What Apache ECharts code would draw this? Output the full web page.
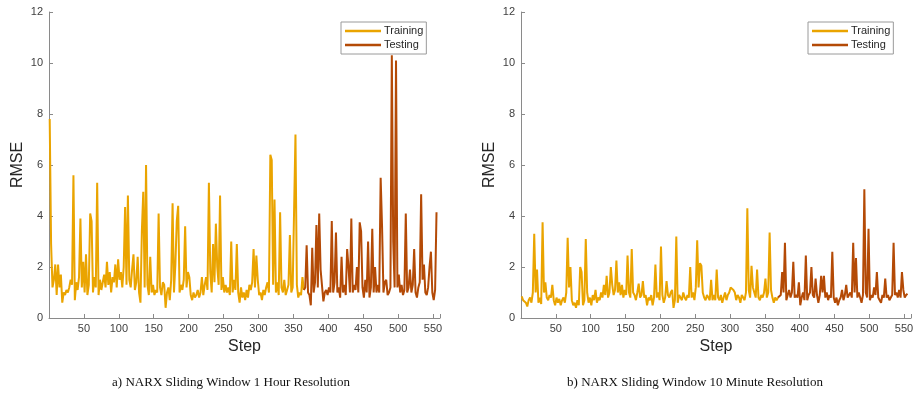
<!DOCTYPE html>
<html>
<head>
<meta charset="utf-8">
<script src="https://cdn.jsdelivr.net/npm/echarts@6/dist/echarts.min.js"></script>
<style>
  html, body { margin: 0; padding: 0; background: #fff; }
  #main { width: 922px; height: 394px; }
</style>
</head>
<body>
<div id="main"></div>
<script>
// RMSE per step, sampled every 2 steps, read off the figure
// a) 1 hour resolution
var hourTrainStart = 1
var hourTrain = [
  7.8, 2.9, 1.2, 1.5, 2.1, 0.9, 2.1, 1.2, 1.7, 0.6,
  1.0, 0.9, 1.1, 1.0, 1.2, 1.5, 1.3, 5.6, 0.7, 1.4,
  1.1, 1.6, 3.9, 1.2, 2.2, 1.0, 2.5, 0.9, 1.3, 4.1,
  3.8, 1.0, 1.6, 1.2, 5.3, 0.9, 1.5, 1.1, 1.4, 1.7,
  1.2, 2.2, 1.3, 1.8, 1.0, 1.6, 1.4, 2.1, 1.2, 2.3,
  1.5, 1.8, 1.2, 2.0, 4.35, 1.3, 4.8, 1.5, 1.2, 1.9,
  2.5, 1.1, 1.4, 2.4, 1.0, 0.6, 3.4, 4.95, 1.2, 6.0,
  1.3, 0.9, 2.4, 1.0, 1.3, 0.9, 1.1, 1.0, 4.1, 1.2,
  0.9, 1.4, 1.3, 0.4, 1.0, 1.2, 0.7, 1.5, 4.5, 1.0,
  2.1, 3.8, 4.4, 1.0, 1.3, 1.1, 1.5, 3.6, 1.2, 1.8,
  1.6, 0.9, 0.7, 1.0, 0.8, 0.9, 1.1, 0.8, 1.0, 1.6,
  0.9, 1.3, 1.6, 1.1, 5.3, 1.8, 1.0, 2.9, 1.4, 3.7,
  2.0, 1.3, 4.8, 1.1, 1.6, 1.0, 1.3, 1.0, 1.2, 0.9,
  3.0, 1.0, 1.5, 1.1, 2.9, 1.0, 0.6, 1.2, 0.8, 1.0,
  0.7, 1.1, 0.8, 1.3, 1.1, 1.4, 2.7, 1.2, 2.45, 1.5,
  0.9, 1.0, 0.7, 1.1, 0.9, 1.2, 1.4, 1.0, 6.4, 6.2,
  1.3, 4.65, 1.0, 1.4, 0.9, 4.15, 1.2, 1.0, 1.5, 0.9,
  1.1, 1.3, 3.25, 1.0, 1.2, 1.2, 7.2, 1.3, 0.8, 1.0,
  0.9, 1.6, 1.1
]
var hourTestStart = 365
var hourTest = [
  1.1, 1.2, 2.85, 1.0, 0.9, 0.5, 2.75, 1.0, 1.4, 3.65,
  1.2, 4.1, 1.9, 1.95, 0.65, 1.0, 1.1, 0.9, 1.2, 1.0,
  3.8, 1.0, 1.4, 3.35, 1.0, 1.2, 0.8, 2.4, 1.0, 1.3,
  0.9, 2.7, 2.0, 1.0, 3.9, 1.0, 1.3, 1.1, 2.0, 1.0,
  3.75, 3.4, 1.2, 0.8, 1.5, 1.0, 3.0, 0.8, 1.2, 3.5,
  1.0, 2.0, 1.0, 1.3, 1.0, 5.5, 3.6, 1.0, 1.4, 1.5,
  0.9, 1.0, 1.2, 10.3, 3.0, 1.2, 10.1, 1.2, 1.7, 1.0,
  1.3, 0.9, 1.1, 4.1, 1.0, 1.2, 1.9, 1.0, 1.3, 2.7,
  1.0, 0.8, 1.2, 1.4, 4.85, 1.5, 2.1, 1.0, 0.9, 1.2,
  2.0, 2.6, 1.0, 0.7, 1.1, 4.15
]
// b) 10 minute resolution
var minTrainStart = 1
var minTrain = [
  0.85, 0.7, 0.75, 0.6, 0.45, 0.7, 0.8, 0.6, 1.0, 3.3,
  1.0, 1.9, 0.6, 0.8, 0.55, 3.75, 1.0, 1.4, 0.8, 0.7,
  0.9, 0.8, 1.3, 0.7, 0.5, 0.8, 0.6, 0.75, 0.5, 0.7,
  0.8, 0.6, 1.0, 3.15, 1.2, 2.0, 0.7, 0.5, 0.6, 0.4,
  0.7, 0.5, 2.0, 1.8, 0.5, 0.7, 3.1, 1.0, 0.6, 0.8,
  0.5, 0.9, 0.7, 1.1, 0.6, 0.8, 0.7, 1.0, 0.8, 1.3,
  0.9, 1.65, 0.8, 1.0, 2.0, 1.3, 0.9, 1.1, 2.25, 1.0,
  1.4, 0.9, 1.3, 0.8, 1.1, 0.9, 2.45, 1.0, 0.8, 2.7,
  1.0, 0.9, 0.7, 1.0, 1.35, 0.8, 0.9, 1.45, 0.8, 0.9,
  0.5, 0.8, 0.7, 0.9, 0.5, 0.8, 2.1, 0.8, 1.0, 0.7,
  2.8, 0.9, 0.6, 0.8, 1.45, 0.9, 0.8, 1.0, 1.1, 0.4,
  0.7, 3.2, 0.6, 0.9, 0.8, 0.7, 1.0, 0.8, 0.7, 0.9,
  0.8, 2.0, 0.8, 1.0, 0.7, 1.2, 3.05, 1.2, 2.15, 2.05,
  1.0, 0.8, 0.7, 0.9, 0.8, 0.7, 1.5, 0.7, 0.9, 0.7,
  1.9, 0.8, 0.7, 0.9, 0.6, 0.8, 1.0, 0.7, 0.9, 1.0,
  1.2, 1.25, 1.1, 1.0, 0.7, 0.9, 0.8, 0.6, 0.9, 0.8,
  0.7, 1.0, 4.3, 1.1, 0.8, 2.05, 1.2, 1.0, 0.8, 1.9,
  0.8, 0.7, 0.9, 0.8, 1.0, 1.55, 0.8, 1.0, 3.35, 1.1,
  0.8, 0.6, 0.8, 0.7, 0.8
]
var minTestStart = 369
var minTest = [
  0.8, 0.85, 0.9, 1.8, 1.0, 2.95, 0.7, 0.9, 1.1, 0.8,
  1.0, 2.2, 0.8, 0.9, 0.8, 1.4, 0.5, 0.8, 1.0, 0.7,
  2.45, 0.7, 0.9, 1.0, 2.0, 0.9, 0.8, 1.55, 0.9, 0.6,
  0.9, 1.65, 1.0, 1.65, 0.8, 1.0, 0.7, 0.9, 0.8, 2.6,
  0.8, 0.6, 0.8, 0.5, 0.7, 0.8, 1.1, 0.7, 0.9, 1.3,
  0.8, 0.9, 1.0, 0.8, 2.95, 1.0, 2.35, 0.8, 1.0, 0.8,
  0.6, 0.9, 5.05, 1.0, 0.8, 3.5, 0.7, 0.9, 0.8, 1.2,
  0.9, 1.8, 0.8, 0.7, 0.6, 0.9, 0.8, 1.55, 0.8, 0.9,
  0.7, 0.8, 0.9, 2.95, 0.9, 1.0, 0.8, 1.1, 0.8, 1.8,
  1.1, 0.8, 0.9, 0.95
]
var stepGap = 2
var yTicks = [0, 2, 4, 6, 8, 10, 12]
var xTicks = [50, 100, 150, 200, 250, 300, 350, 400, 450, 500, 550]
var captions = [
  'a) NARX Sliding Window 1 Hour Resolution',
  'b) NARX Sliding Window 10 Minute Resolution'
]

var trainColor = '#EAA400'
var testColor = '#B44A06'
var axisColor = '#8a8a8a'
var font = 'Liberation Sans'

function pairs(start, vals) {
  return vals.map(function (v, i) { return [start + i * stepGap, v] })
}

function xAxisOf(idx) {
  return {
    gridIndex: idx, type: 'value', min: 0, max: 560, interval: 50,
    name: 'Step', nameLocation: 'middle', nameGap: 21,
    nameTextStyle: { fontSize: 16, color: '#262626', fontFamily: font },
    axisLine: { lineStyle: { color: axisColor } },
    axisTick: { inside: true, length: 4, lineStyle: { color: axisColor } },
    axisLabel: {
      fontSize: 11, color: '#404040', fontFamily: font, margin: 5,
      formatter: function (v) { return xTicks.indexOf(v) >= 0 ? String(v) : '' }
    },
    splitLine: { show: false }
  }
}

function yAxisOf(idx) {
  return {
    gridIndex: idx, type: 'value', min: yTicks[0], max: yTicks[yTicks.length - 1], interval: 2,
    name: 'RMSE', nameLocation: 'middle', nameGap: 23, nameRotate: 90,
    nameTextStyle: { fontSize: 16, color: '#262626', fontFamily: font },
    axisLine: { show: true, lineStyle: { color: axisColor } },
    axisTick: { show: true, inside: true, length: 4, lineStyle: { color: axisColor } },
    axisLabel: { fontSize: 11, color: '#404040', fontFamily: font, margin: 6 },
    splitLine: { show: false }
  }
}

function lineSeries(name, idx, data, color) {
  return {
    name: name, type: 'line', xAxisIndex: idx, yAxisIndex: idx,
    data: data, showSymbol: false, symbol: 'none', animation: false,
    lineStyle: { color: color, width: 2 }, itemStyle: { color: color }
  }
}

function legendOf(left) {
  return {
    left: left, top: 22, orient: 'vertical',
    data: ['Training', 'Testing'],
    icon: 'rect', itemWidth: 36, itemHeight: 2.5, itemGap: 2,
    padding: [3, 3, 3, 4], borderColor: '#9a9a9a', borderWidth: 1, borderRadius: 0,
    backgroundColor: '#fff',
    textStyle: { fontSize: 11, lineHeight: 12, color: '#262626', fontFamily: font, padding: [0, 0, 0, -2] }
  }
}

var chart = echarts.init(document.getElementById('main'))
chart.setOption({
  animation: false,
  title: [
    { text: captions[0], left: 226, top: 371, textAlign: 'center',
      textStyle: { fontFamily: 'Liberation Serif', fontSize: 13, fontWeight: 'normal', color: '#111' } },
    { text: captions[1], left: 690, top: 371, textAlign: 'center',
      textStyle: { fontFamily: 'Liberation Serif', fontSize: 13, fontWeight: 'normal', color: '#111' } }
  ],
  legend: [legendOf(341), legendOf(808)],
  grid: [
    { left: 49, top: 12, width: 391, height: 306 },
    { left: 521, top: 12, width: 390, height: 306 }
  ],
  xAxis: [xAxisOf(0), xAxisOf(1)],
  yAxis: [yAxisOf(0), yAxisOf(1)],
  series: [
    lineSeries('Training', 0, pairs(hourTrainStart, hourTrain), trainColor),
    lineSeries('Testing', 0, pairs(hourTestStart, hourTest), testColor),
    lineSeries('Training', 1, pairs(minTrainStart, minTrain), trainColor),
    lineSeries('Testing', 1, pairs(minTestStart, minTest), testColor)
  ]
})
</script>
</body>
</html>
